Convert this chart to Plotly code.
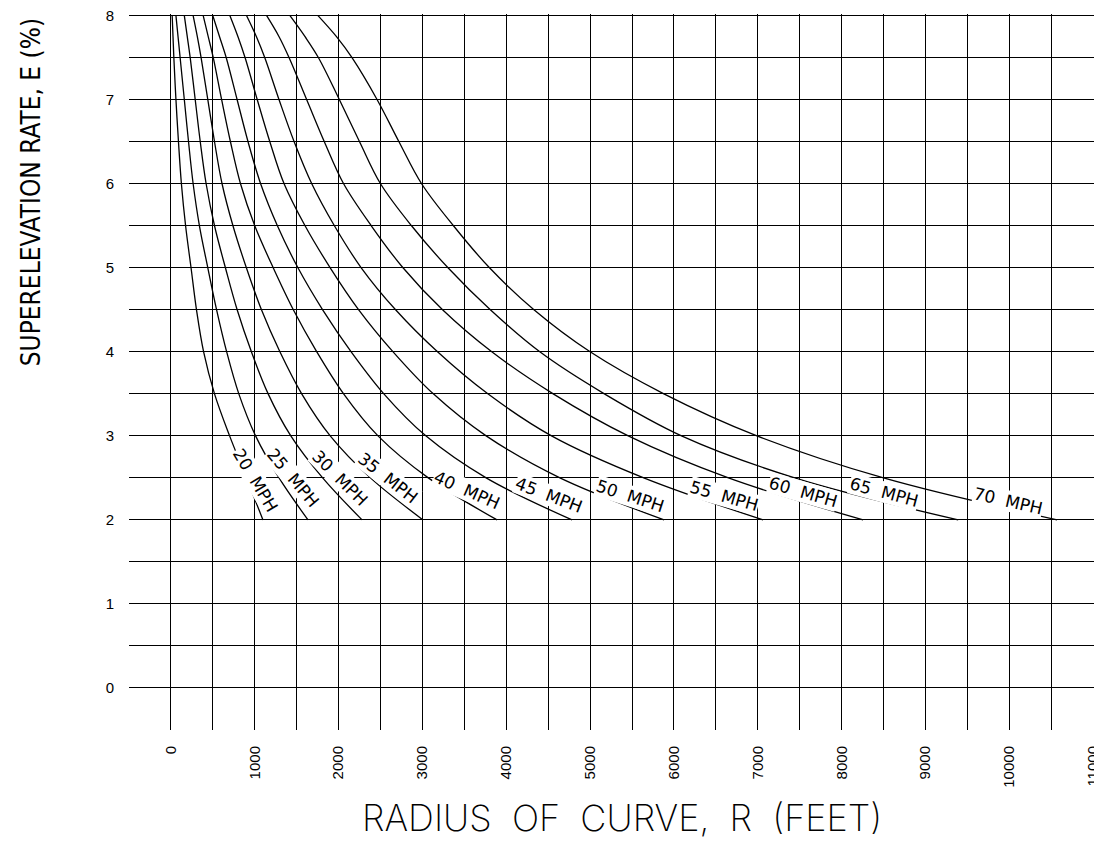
import plotly.graph_objects as go

# Superelevation rate levels (%) at which radii were read
E_LEVELS = [8.0, 7.75, 7.5, 7.0, 6.5, 6.0, 5.5, 5.0, 4.5, 4.0, 3.5, 3.0, 2.5, 2.0]

# Radius of curve (feet) for each design speed at the E_LEVELS above
R_20 = [15, 25, 35, 60, 90, 125, 175, 240, 305, 390, 520, 700, 900, 1098]
R_25 = [60, 85, 110, 160, 210, 265, 340, 440, 545, 665, 810, 1010, 1290, 1635]
R_30 = [160, 195, 230, 290, 350, 420, 520, 650, 790, 960, 1160, 1430, 1810, 2280]
R_35 = [265, 315, 360, 440, 520, 610, 740, 900, 1080, 1300, 1560, 1900, 2380, 3007]
R_40 = [385, 445, 505, 605, 710, 830, 1000, 1220, 1460, 1740, 2060, 2470, 3070, 3890]
R_45 = [500, 580, 660, 790, 920, 1070, 1270, 1515, 1810, 2150, 2540, 3040, 3760, 4784]
R_50 = [704, 800, 885, 1030, 1180, 1350, 1600, 1900, 2240, 2650, 3130, 3760, 4640, 5882]
R_55 = [903, 1020, 1120, 1290, 1470, 1680, 1950, 2270, 2680, 3180, 3780, 4540, 5640, 7063]
R_60 = [1142, 1290, 1410, 1620, 1830, 2060, 2390, 2768, 3240, 3827, 4560, 5455, 6650, 8256]
R_65 = [1420, 1600, 1760, 2010, 2250, 2500, 2870, 3305, 3810, 4400, 5170, 6090, 7440, 9390]
R_70 = [1754, 1975, 2160, 2460, 2720, 2990, 3370, 3800, 4330, 5000, 5880, 6990, 8500, 10570]

SPEEDS = [20, 25, 30, 35, 40, 45, 50, 55, 60, 65, 70]
RADII = [R_20, R_25, R_30, R_35, R_40, R_45, R_50, R_55, R_60, R_65, R_70]

# Curve label centres (radius ft, rate %) and text angles
LABEL_X = [1010, 1460, 2016, 2590, 3530, 4510, 5480, 6600, 7540, 8500, 9990]
LABEL_Y = [2.48, 2.50, 2.50, 2.50, 2.36, 2.30, 2.28, 2.28, 2.33, 2.33, 2.22]
LABEL_ANGLE = [59, 50, 45, 38, 24, 21, 18, 16, 16, 15, 13]

X_TICKS = list(range(0, 11001, 1000))
Y_TICKS = list(range(0, 9))

fig = go.Figure()

for spd, r in zip(SPEEDS, RADII):
    fig.add_trace(go.Scatter(
        x=r, y=E_LEVELS, mode="lines",
        line=dict(color="black", width=1.3, shape="spline", smoothing=1.0),
        name=f"{spd} MPH", showlegend=False, hoverinfo="skip",
    ))

for spd, lx, ly, ang in zip(SPEEDS, LABEL_X, LABEL_Y, LABEL_ANGLE):
    fig.add_annotation(
        x=lx, y=ly, xref="x", yref="y",
        text=f"{spd}  MPH", showarrow=False, textangle=ang,
        font=dict(family="DejaVu Sans, Liberation Sans, sans-serif", size=17, color="black"),
        bgcolor="white", borderpad=0,
    )

fig.add_annotation(
    text="RADIUS  OF  CURVE,  R  (FEET)", xref="paper", yref="paper",
    x=0.511, y=-0.123, xanchor="center", yanchor="middle", showarrow=False,
    font=dict(family="Inter, Roboto, Liberation Sans, sans-serif", size=36, color="black", weight=200),
)
fig.add_annotation(
    text="SUPERELEVATION RATE, E (%)", xref="paper", yref="paper",
    x=-0.1016, y=0.751, xanchor="center", yanchor="middle", showarrow=False,
    textangle=-90,
    font=dict(family="Liberation Sans Narrow, DejaVu Sans Condensed, Inter, sans-serif", size=26, color="black", weight=200),
)

tick_font = dict(family="Liberation Sans, Arial, sans-serif", size=15, color="black")

fig.update_xaxes(
    range=[-500, 11010], tickvals=X_TICKS, ticktext=[str(v) for v in X_TICKS],
    tickangle=-90, ticks="", ticklabelstandoff=12, automargin=False,
    ticklabeloverflow="allow",
    showgrid=True, gridcolor="black", gridwidth=1,
    minor=dict(dtick=500, tick0=0, showgrid=True, gridcolor="black", gridwidth=1),
    zeroline=False, showline=False, tickfont=tick_font,
)
fig.update_yaxes(
    range=[-0.5, 8.02], tickvals=Y_TICKS, ticktext=[str(v) for v in Y_TICKS],
    ticks="", ticklabelstandoff=14, automargin=False,
    ticklabeloverflow="allow",
    showgrid=True, gridcolor="black", gridwidth=1,
    minor=dict(dtick=0.5, tick0=0, showgrid=True, gridcolor="black", gridwidth=1),
    zeroline=False, showline=False, tickfont=tick_font,
)

# the page body adds an 8 px offset, so the figure is 8 px smaller on each axis
fig.update_layout(
    width=1094, height=857,
    margin=dict(l=121, r=8, t=6, b=135, autoexpand=False),
    plot_bgcolor="white", paper_bgcolor="white",
    showlegend=False,
)

fig.write_html("out.html")
